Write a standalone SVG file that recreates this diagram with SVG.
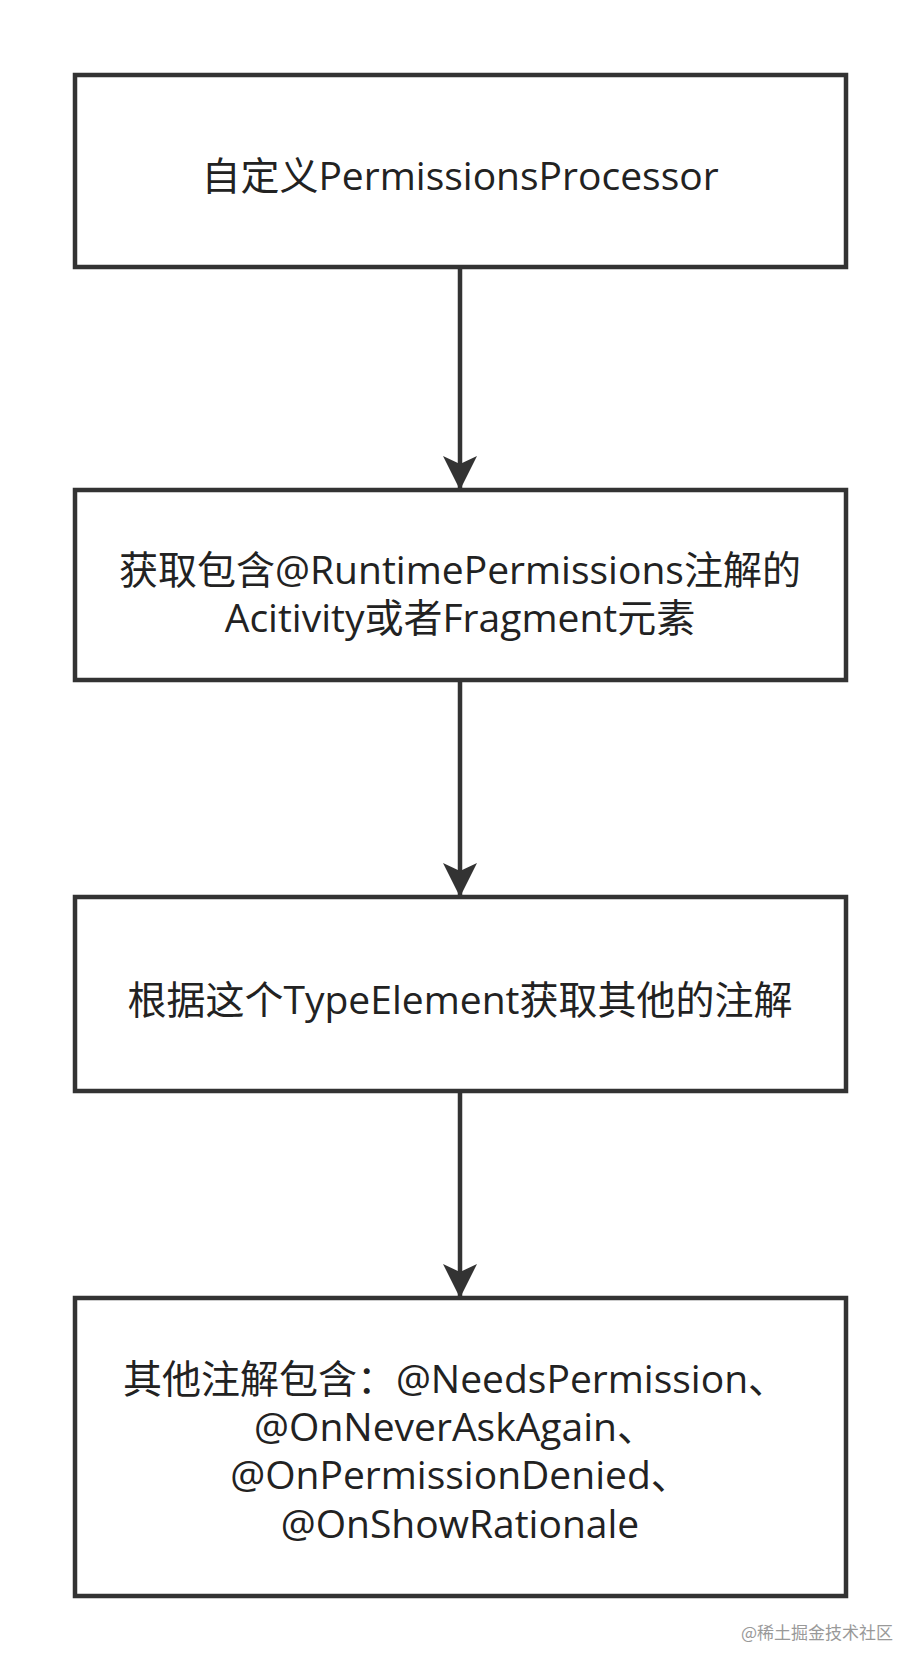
<svg xmlns="http://www.w3.org/2000/svg" width="921" height="1669" viewBox="0 0 921 1669">
<style>
.box{fill:#fff;stroke:#333;stroke-width:4.5}
.t{font-family:"Open Sans","Noto Sans CJK SC",sans-serif;font-size:39px;fill:#222;text-anchor:middle}
.c{stroke:#333;stroke-width:4.5;fill:none}
</style>
<defs><marker id="a" markerUnits="userSpaceOnUse" markerWidth="34" markerHeight="50" refX="34" refY="17" orient="auto"><path d="M0,0 L34,17 L0,34 L8,17 Z" fill="#333"/></marker></defs>
<rect width="921" height="1669" fill="#fff"/>
<g id="connectors">
<line class="c" x1="460" y1="267" x2="460" y2="490" marker-end="url(#a)"/>
<line class="c" x1="460" y1="680" x2="460" y2="897" marker-end="url(#a)"/>
<line class="c" x1="460" y1="1091" x2="460" y2="1298" marker-end="url(#a)"/>
</g>
<g id="n1"><rect class="box" x="75" y="75" width="771" height="192"/><text class="t" x="460" y="190">自定义PermissionsProcessor</text></g>
<g id="n2"><rect class="box" x="75" y="490" width="771" height="190"/><text class="t" x="460" y="584">获取包含@RuntimePermissions注解的</text><text class="t" x="460" y="632">Acitivity或者Fragment元素</text></g>
<g id="n3"><rect class="box" x="75" y="897" width="771" height="194"/><text class="t" x="460" y="1014">根据这个TypeElement获取其他的注解</text></g>
<g id="n4"><rect class="box" x="75" y="1298" width="771" height="298"/>
<text class="t" x="455" y="1393">其他注解包含：@NeedsPermission、</text>
<text class="t" x="455" y="1441">@OnNeverAskAgain、</text>
<text class="t" x="460" y="1489">@OnPermissionDenied、</text>
<text class="t" x="460" y="1538">@OnShowRationale</text></g>
<text x="893" y="1639" font-family="'Noto Sans CJK SC',sans-serif" font-size="17" fill="#999" text-anchor="end">@稀土掘金技术社区</text>
</svg>
